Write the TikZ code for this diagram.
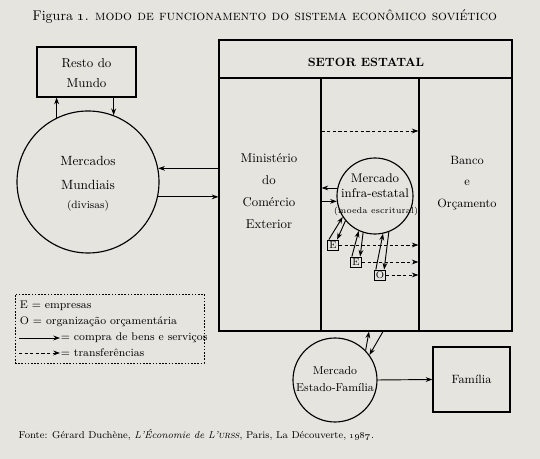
\documentclass[tikz,border=0pt]{standalone}
\usepackage{amsmath, amssymb}
\usepackage{tikz}
\usetikzlibrary{arrows.meta}

\definecolor{paper}{RGB}{229,228,223}

\begin{document}
\begin{tikzpicture}[x=0.75pt, y=-0.75pt,
        box/.style={draw, line width=0.85pt, inner sep=0pt},
        mkt/.style={draw, circle, line width=0.85pt, inner sep=0pt},
        buy/.style={-{Stealth[length=5pt,width=3.6pt]}, line width=0.7pt},
        transfer/.style={buy, dash pattern=on 2.4pt off 1.8pt},
        firm/.style={draw, line width=0.7pt, inner sep=0.5pt, minimum width=8.5pt,
            minimum height=7.5pt, font=\fontsize{7.5}{8}\selectfont},
        legtxt/.style={anchor=west, inner sep=0.5pt, font=\fontsize{8.3}{10}\selectfont}]

        % Paper background (fixes the size)
        \fill[paper] (0,0) rectangle (540,459);

        % Title
        \node[anchor=west, font=\fontsize{10.5}{12}\selectfont] (title) at (28,17)
            {Figura \oldstylenums{1}. \textsc{modo de funcionamento do sistema econômico soviético}};

        % Rest of the world and world markets
        \node[box, minimum width=74.25pt, minimum height=37.5pt] (resto) at (86.5,72) {};
        \node[align=center, font=\fontsize{9.7}{15.5}\selectfont] (restolbl) at (86.5,73) {Resto do\\Mundo};
        \node[mkt, minimum size=106.5pt] (mm) at (88,182) {};
        \node[align=center, font=\fontsize{10}{18}\selectfont] (mmlbl) at (88,173) {Mercados\\Mundiais};
        \node[font=\fontsize{8}{9}\selectfont] (divisas) at (88,206) {(divisas)};
        \draw[buy] (mm.116) -- (mm.116 |- resto.south);
        \draw[buy] (mm.69 |- resto.south) -- (mm.69);

        % State sector frame
        \node[box, minimum width=219.75pt, minimum height=218.25pt] (setor) at (365.5,185.5) {};
        \draw[line width=0.85pt] (setor.west |- 0,78) -- (setor.east |- 0,78);
        \node[font=\bfseries\fontsize{9}{10}\selectfont] (setorlbl) at (366,62) {SETOR ESTATAL};

        % Ministry and bank boxes
        \node[box, minimum width=76.5pt, minimum height=189.75pt] (min) at (270,204.5) {};
        \node[align=center, font=\fontsize{9.6}{16.5}\selectfont] (minlbl) at (269,191)
            {Ministério\\do\\Comércio\\Exterior};
        \node[box, minimum width=69.75pt, minimum height=189.75pt] (banco) at (465.5,204.5) {};
        \node[align=center, font=\fontsize{9}{16}\selectfont] (bancolbl) at (467,183)
            {Banco\\e\\Orçamento};

        % World markets <-> ministry
        \draw[buy] (setor.west |- mm.11) -- (mm.11);
        \draw[buy] (mm.-12) -- (setor.west |- mm.-12);

        % Transfer ministry -> bank
        \draw[transfer] (min.east |- 0,131) -- (banco.west |- 0,131);

        % Intra-state market
        \node[mkt, minimum size=57pt] (infra) at (375,196) {};
        \node[align=center, font=\fontsize{9.4}{11.3}\selectfont] (infralbl) at (375,186)
            {Mercado\\infra-estatal};
        \node[font=\fontsize{6.4}{7}\selectfont] (moeda) at (376,211) {(moeda escritural)};
        \draw[buy] (infra.168) -- (min.east |- infra.168);
        \draw[buy] (min.east |- infra.188) -- (infra.188);

        % Firms and budget organisation
        \node[firm] (e1) at (333,245) {E};
        \node[firm] (e2) at (356,262) {E};
        \node[firm] (o1) at (380,275) {O};
        \draw[buy] ([xshift=1.5pt]e1.north west) -- (infra.213);
        \draw[buy] (infra.220) -- ([xshift=-1.5pt]e1.north east);
        \draw[buy] ([xshift=1.5pt]e2.north west) -- (infra.245);
        \draw[buy] (infra.252) -- ([xshift=-1.5pt]e2.north east);
        \draw[buy] ([xshift=1.5pt]o1.north west) -- (infra.282);
        \draw[buy] (infra.291) -- ([xshift=-1.5pt]o1.north east);
        \draw[transfer] (e1.east) -- (banco.west |- e1.east);
        \draw[transfer] (e2.east) -- (banco.west |- e2.east);
        \draw[transfer] (o1.east) -- (banco.west |- o1.east);

        % State-household market and households
        \node[mkt, minimum size=63pt] (estado) at (335,380) {};
        \node[align=center, font=\fontsize{8.6}{12.7}\selectfont] (estadolbl) at (335,379)
            {Mercado\\Estado-Família};
        \draw[buy] (estado.44) -- (369,0 |- setor.south);
        \draw[buy] (383,0 |- setor.south) -- (estado.36);
        \node[box, minimum width=57.75pt, minimum height=48.75pt, font=\fontsize{9}{10}\selectfont]
            (familia) at (471.5,379.5) {Família};
        \draw[buy] (estado.east) -- (familia.west);

        % Legend
        \node[draw, dash pattern=on 1.2pt off 1.2pt, line width=0.7pt, minimum width=141.75pt,
            minimum height=51.75pt] (legend) at (109.5,328.5) {};
        \node[legtxt] (lgE) at (19,306) {E = empresas};
        \node[legtxt] (lgO) at (19,322) {O = organização orçamentária};
        \coordinate (lgbuy) at (19,338);
        \node[legtxt] (lgbuytxt) at (60,338) {= compra de bens e serviços};
        \draw[buy] (lgbuy) -- (lgbuytxt.west);
        \coordinate (lgtr) at (19,353);
        \node[legtxt] (lgtrtxt) at (60,353) {= transferências};
        \draw[transfer] (lgtr) -- (lgtrtxt.west);

        % Source
        \node[anchor=west, font=\fontsize{7.5}{9}\selectfont] (fonte) at (14,435)
            {Fonte: Gérard Duchène, \textit{L'Économie de L'\textsc{urss}}, Paris, La Découverte, \oldstylenums{1987}.};
    \end{tikzpicture}
\end{document}
